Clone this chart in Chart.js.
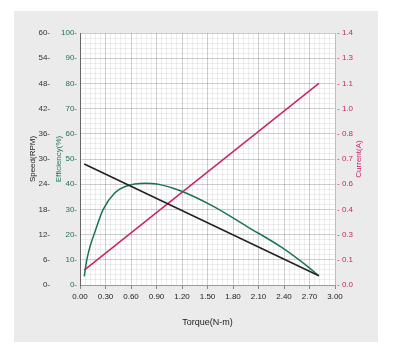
<!DOCTYPE html>
<html><head><meta charset="utf-8">
<script src="https://cdn.jsdelivr.net/npm/chart.js@4/dist/chart.umd.min.js"></script>
<style>
html,body{margin:0;padding:0;background:#fff;width:394px;height:356px;overflow:hidden;}
#panel{position:absolute;left:14px;top:11px;width:364px;height:331px;background:#ebebeb;}
canvas{display:block;}
</style></head><body>
<div id="panel"><canvas id="c" width="364" height="331"></canvas></div>
<script>
// Data
const speedTorque = [0.05, 2.81];
const speedValues = [28.8, 2.2];           // RPM
const currentTorque = [0.05, 2.81];
const currentValues = [0.083, 1.12];       // A
const effTorque = [0.05, 0.07, 0.083, 0.12, 0.17, 0.27, 0.405, 0.54, 0.77, 0.905, 1.18, 1.575, 1.97, 2.36, 2.68, 2.81];
const effValues = [3.4, 8.0, 10.5, 15.5, 20.5, 29.8, 36.4, 39.2, 40.4, 40.1, 37.4, 31.1, 23.1, 15.2, 7.3, 3.6]; // %

const xTickLabels = ['0.00','0.30','0.60','0.90','1.20','1.50','1.80','2.10','2.40','2.70','3.00'];
const speedTickLabels = ['0','6','12','18','24','30','36','42','48','54','60'];
const effTickLabels = ['0','10','20','30','40','50','60','70','80','90','100'];
const currentTickLabels = ['0.0','0.1','0.3','0.4','0.6','0.7','0.8','1.0','1.1','1.3','1.4'];

const FONT = "'Liberation Sans', Arial, sans-serif";
const BLACK = '#222222', GREEN = '#1d7550', RED = '#c9246a';
const MAJOR = 'rgba(0,0,0,0.19)', MINOR = 'rgba(0,0,0,0.065)';

function pts(xs, ys){ return xs.map((x,i)=>({x:x, y:ys[i]})); }

const whiteArea = {
  id:'whiteArea',
  beforeDraw(chart){
    const a = chart.chartArea, ctx = chart.ctx;
    ctx.save(); ctx.fillStyle = '#ffffff';
    ctx.fillRect(a.left, a.top, a.right - a.left, a.bottom - a.top);
    ctx.restore();
  },
  afterDraw(chart){
    const s = chart.scales.yCur, ctx = chart.ctx;
    ctx.save();
    ctx.translate(s.right - 5, (s.top + s.bottom) / 2);
    ctx.rotate(-Math.PI / 2);
    ctx.textAlign = 'center'; ctx.textBaseline = 'middle';
    ctx.fillStyle = RED; ctx.font = "8px " + FONT;
    ctx.fillText('Current(A)', 0, 0);
    ctx.restore();
  }
};

new Chart(document.getElementById('c'), {
  type: 'line',
  plugins:[whiteArea],
  data: {
    datasets: [
      {label:'Speed', data: pts(speedTorque, speedValues), yAxisID:'ySpeed', borderColor:BLACK, borderWidth:1.5, pointRadius:0, tension:0},
      {label:'Efficiency', data: pts(effTorque, effValues), yAxisID:'yEff', borderColor:GREEN, borderWidth:1.5, pointRadius:0, cubicInterpolationMode:'monotone'},
      {label:'Current', data: pts(currentTorque, currentValues), yAxisID:'yCur', borderColor:RED, borderWidth:1.5, pointRadius:0, tension:0}
    ]
  },
  options: {
    responsive:false, animation:false,
    layout:{padding:{left:14, right:14, top:22, bottom:14}},
    plugins:{legend:{display:false}, tooltip:{enabled:false}},
    scales:{
      x:{
        type:'linear', position:'bottom', min:0, max:3,
        afterFit(s){ s.height = 43; },
        ticks:{stepSize:0.06, autoSkip:false, maxRotation:0, padding:3, color:'#222', font:{family:FONT, size:8},
          callback:(v,i)=> i%5===0 ? xTickLabels[i/5] : ''},
        grid:{color:(c)=> c.index%5===0 ? MAJOR : MINOR, tickLength:4, tickColor:(c)=> c.index%5===0 ? '#888' : 'rgba(0,0,0,0)', lineWidth:1},
        border:{display:true, color:'#9a9a9a', width:1},
        title:{display:true, text:'Torque(N-m)', color:'#222', font:{family:FONT, size:9}, padding:{top:0,bottom:0}}
      },
      ySpeed:{
        type:'linear', position:'left', min:0, max:60, weight:2,
        afterFit(s){ s.width = 26; },
        ticks:{stepSize:1.2, autoSkip:false, padding:4, color:'#333', font:{family:FONT, size:8},
          callback:(v,i)=> i%5===0 ? speedTickLabels[i/5] + '-' : ''},
        grid:{color:(c)=> c.index%5===0 ? MAJOR : MINOR, drawTicks:false, lineWidth:1},
        border:{display:false},
        title:{display:true, text:'Speed(RPM)', color:'#222', font:{family:FONT, size:8}, padding:{top:0,bottom:0}}
      },
      yEff:{
        type:'linear', position:'left', min:0, max:100, weight:1,
        afterFit(s){ s.width = 26; },
        ticks:{stepSize:10, autoSkip:false, padding:3, color:GREEN, font:{family:FONT, size:8},
          callback:(v,i)=> effTickLabels[i] + '-'},
        grid:{drawOnChartArea:false, drawTicks:false},
        border:{display:true, color:'#666', width:1},
        title:{display:true, text:'Efficiency(%)', color:GREEN, font:{family:FONT, size:8}, padding:{top:0,bottom:0}}
      },
      yCur:{
        type:'linear', position:'right', min:0, max:1.4,
        afterFit(s){ s.width = 29; },
        ticks:{count:11, autoSkip:false, padding:2, color:RED, font:{family:FONT, size:8},
          callback:(v,i)=> '- ' + currentTickLabels[i]},
        grid:{drawOnChartArea:false, drawTicks:false},
        border:{display:false},
        title:{display:false}
      }
    }
  }
});
</script>
</body></html>
